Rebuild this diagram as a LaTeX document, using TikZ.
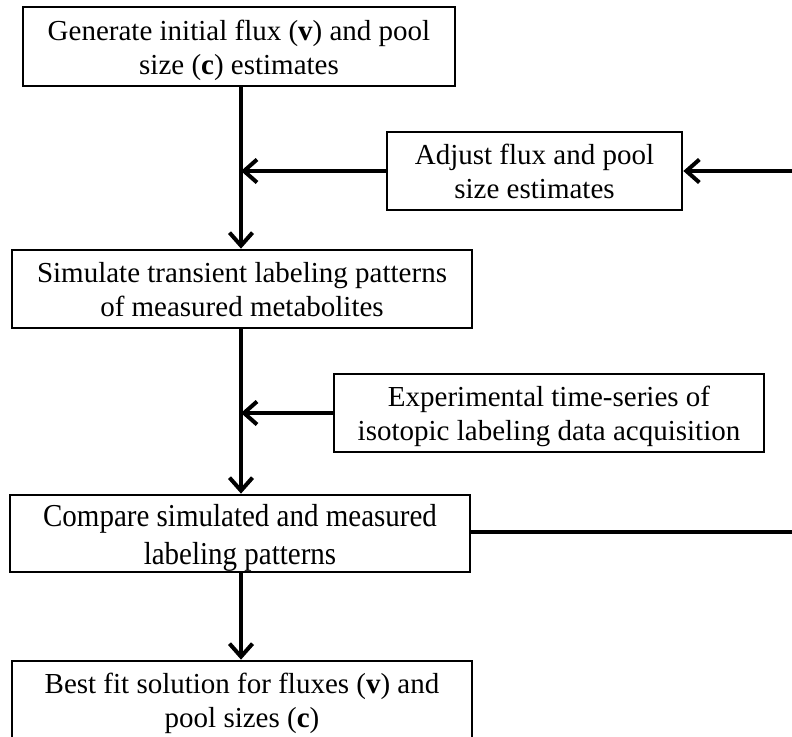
\documentclass[tikz,border=0pt]{standalone}
\usepackage{fontspec}
\setmainfont{Liberation Serif}
\usetikzlibrary{arrows.meta,calc}
% two centred lines of box text, set a little below the box centre
\newcommand{\steptext}[1]{\raisebox{-4pt}[\height][\depth]{\begin{tabular}{@{}c@{}}#1\end{tabular}}}
\begin{document}
\begin{tikzpicture}[x=1pt,y=-1pt,
  stepbox/.style={draw=black,line width=2.7pt,fill=white,align=center,
    inner sep=0pt,font=\fontsize{29}{34}\selectfont},
  link/.style={line width=4pt},
  arr/.style={link,-{Straight Barb[length=13pt,width=23pt,line width=4pt]}}]
\useasboundingbox (0,0) rectangle (792,736);
% main column of steps
\node[stepbox,minimum width=432pt,minimum height=79pt] (gen) at (239,46.5)
  {\steptext{Generate initial flux (\textbf{v}) and pool\\size (\textbf{c}) estimates}};
\node[stepbox,minimum width=460pt,minimum height=78pt] (sim) at (242,289)
  {\steptext{Simulate transient labeling patterns\\of measured metabolites}};
\node[stepbox,minimum width=460pt,minimum height=77pt] (cmp) at (240,533.5)
  {\scalebox{1}[1.1]{\steptext{Compare simulated and measured\\labeling patterns}}};
\node[stepbox,minimum width=460pt,minimum height=78pt] (best) at (242,700)
  {\steptext{Best fit solution for fluxes (\textbf{v}) and\\pool sizes (\textbf{c})}};
% side inputs
\node[stepbox,minimum width=295pt,minimum height=78pt] (adj) at (534.5,171)
  {\steptext{Adjust flux and pool\\size estimates}};
\node[stepbox,minimum width=430pt,minimum height=78pt] (exp) at (549,413)
  {\steptext{Experimental time-series of\\isotopic labeling data acquisition}};
% junction points on the main line and the feedback loop at the right edge
\coordinate (j1) at (241,171);
\coordinate (j2) at (241,413);
\coordinate (rin) at (793,171);
\coordinate (rout) at (793,532);
% connectors
\draw[arr] (gen.south -| j1) -- (sim.north -| j1);
\draw[arr] (sim.south -| j1) -- (cmp.north -| j1);
\draw[arr] (cmp.south -| j1) -- (best.north -| j1);
\draw[arr] (adj.west) -- (j1);
\draw[arr] (exp.west) -- (j2);
\draw[link] (cmp.east |- rout) -- (rout);
\draw[arr] (rin) -- (adj.east);
\end{tikzpicture}
\end{document}
